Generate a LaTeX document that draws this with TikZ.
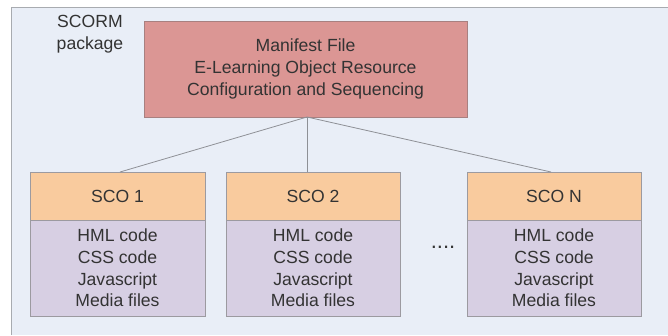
\documentclass[tikz,border=0pt]{standalone}
\usepackage{fontspec}
\setmainfont{Liberation Sans}
\definecolor{panelbg}{HTML}{E9EEF7}
\definecolor{panelline}{HTML}{A8ABB0}
\definecolor{manifestfill}{HTML}{DB9694}
\definecolor{manifestline}{HTML}{A88080}
\definecolor{headfill}{HTML}{F9CB9E}
\definecolor{bodyfill}{HTML}{D7CFE3}
\definecolor{boxline}{HTML}{9C9AA0}
\definecolor{linkline}{HTML}{8E9096}
\definecolor{ink}{HTML}{333333}
\begin{document}
\begin{tikzpicture}[x=1pt,y=-1pt,
  txt/.style={text=ink,font=\fontsize{17.6}{21.6}\selectfont,align=center,inner sep=0pt},
  manifestbox/.style={draw=manifestline,fill=manifestfill,line width=0.8pt},
  headbox/.style={draw=boxline,fill=headfill,line width=0.8pt},
  bodybox/.style={draw=boxline,fill=bodyfill,line width=0.8pt},
  link/.style={draw=linkline,line width=0.8pt}]
\useasboundingbox (0,0) rectangle (668,335);
\fill[white] (0,0) rectangle (668,335);
% package panel
\fill[panelbg] (11,7) rectangle (668,335);
\draw[panelline,line width=0.8pt] (11,335) -- (11,7) -- (668,7);
\node[txt] (pkg) at (90,34) {SCORM\\package};
% manifest
\draw[manifestbox] (144,21) rectangle (467,117);
\node[txt] (man) at (305.5,69) {Manifest File\\E-Learning Object Resource\\Configuration and Sequencing};
\coordinate (mb) at (307,117);
% SCO boxes
\foreach \n/\l/\r/\t in {a/30/205/SCO 1, b/226/400/SCO 2, c/467/641/SCO N}{
  \draw[headbox] (\l,172) rectangle (\r,220);
  \draw[bodybox] (\l,220) rectangle (\r,316);
  \node[txt] (h\n) at ({(\l+\r)/2},196) {\t};
  \node[txt] (b\n) at ({(\l+\r)/2},268) {HML code\\CSS code\\Javascript\\Media files};
}
\coordinate (ta) at (120,172);
\coordinate (tb) at (307,172);
\coordinate (tc) at (551,172);
\draw[link] (mb) -- (ta);
\draw[link] (mb) -- (tb);
\draw[link] (mb) -- (tc);
\node[txt,font=\fontsize{22}{24}\selectfont] (dots) at (443,247) {....};
\end{tikzpicture}
\end{document}
